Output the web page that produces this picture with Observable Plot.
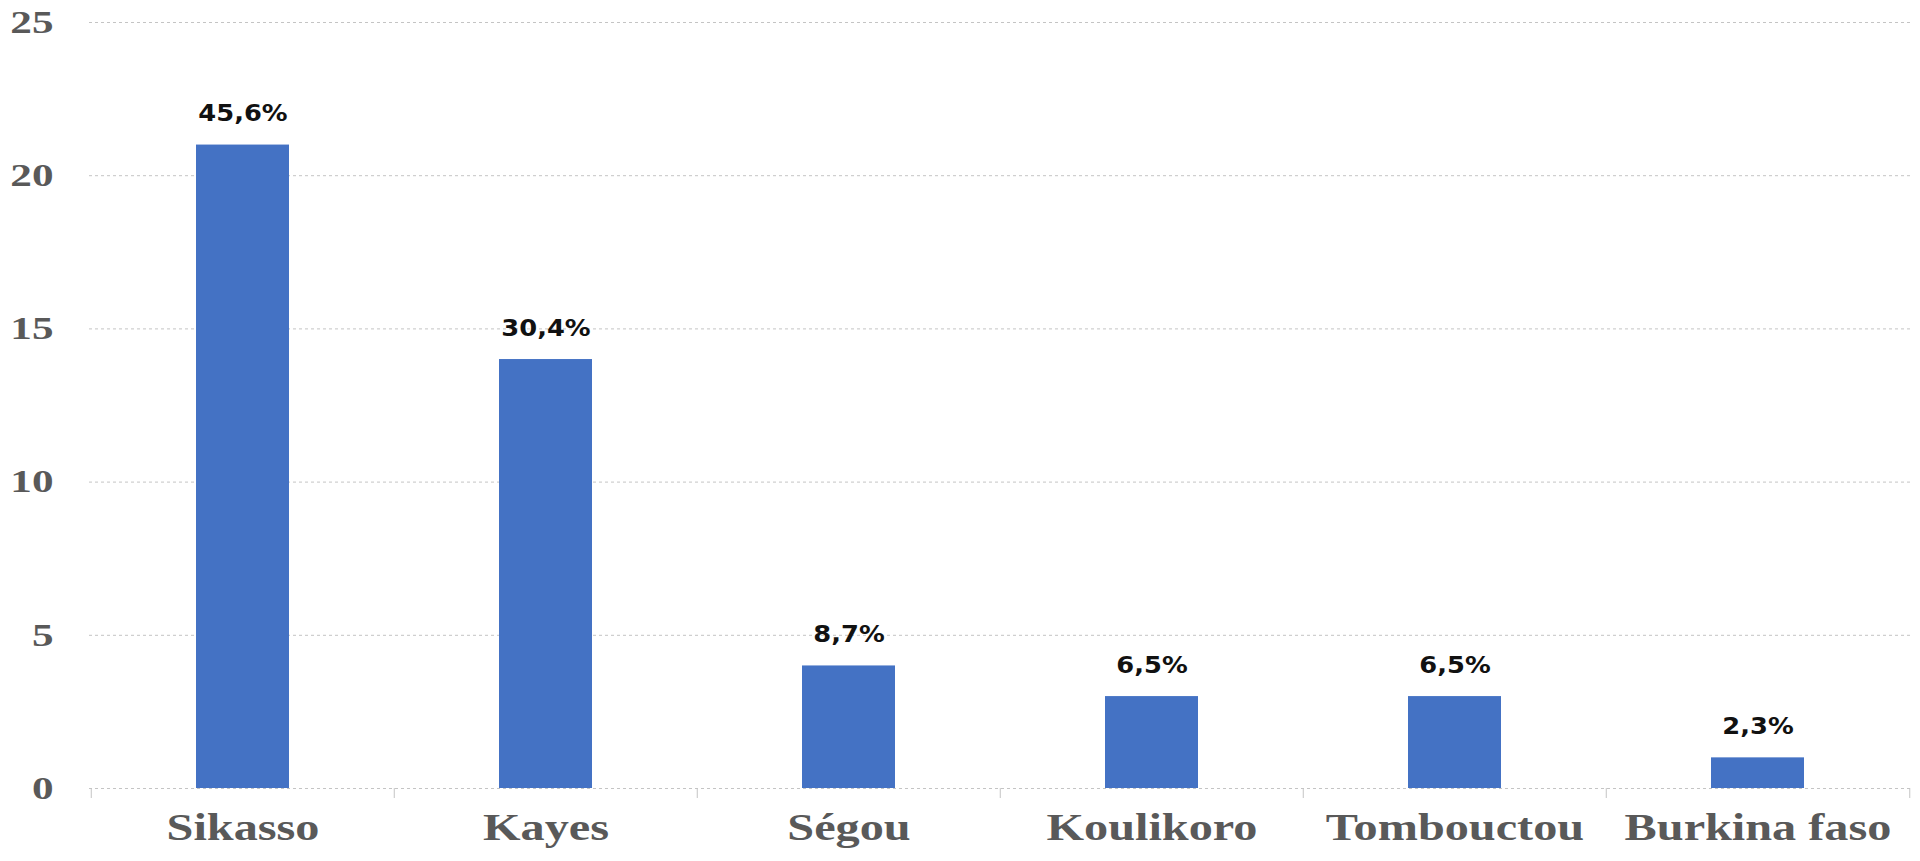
<!DOCTYPE html>
<html><head><meta charset="utf-8">
<script src="https://cdn.jsdelivr.net/npm/d3@7"></script>
<script src="https://cdn.jsdelivr.net/npm/@observablehq/plot@0.6"></script>
<style>body{margin:0;background:#fff}</style>
</head><body><div id="chart"></div>
<script>
const regions = ["Sikasso", "Kayes", "Ségou", "Koulikoro", "Tombouctou", "Burkina faso"];
const counts = [21, 14, 4, 3, 3, 1];
const percentLabels = ["45,6%", "30,4%", "8,7%", "6,5%", "6,5%", "2,3%"];
const yTicks = [0, 5, 10, 15, 20, 25];

const data = regions.map((r, i) => ({region: r, count: counts[i], label: percentLabels[i]}));

const W = 1920, H = 861, mL = 89, mR = 10, mT = 22, mB = 73;
const step = (W - mL - mR) / regions.length;
const gridColor = "#c4c4c4";

const chart = Plot.plot({
  width: W, height: H,
  marginLeft: mL, marginRight: mR, marginTop: mT, marginBottom: mB,
  style: {background: "#fff", overflow: "visible"},
  x: {domain: regions, padding: 0, label: null},
  y: {domain: [0, 25], label: null},
  marks: [
    Plot.gridY(yTicks, {stroke: gridColor, strokeOpacity: 1, strokeDasharray: "3,3", strokeWidth: 1}),
    Plot.barY(data, {x: "region", y: "count", fill: "#4472C4", insetLeft: 105, insetRight: 105}),
    Plot.ruleX(regions, {x: d => d, dx: -step / 2, y1: 0, y2: 0, insetBottom: -10, stroke: gridColor}),
    Plot.ruleX([regions[regions.length - 1]], {x: d => d, dx: step / 2, y1: 0, y2: 0, insetBottom: -10, stroke: gridColor}),
    Plot.text(data, {x: "region", y: "count", text: "label", lineAnchor: "bottom", dy: -24,
      fontFamily: "DejaVu Sans", fontWeight: "bold", fontSize: 23, fill: "#111"}),
    Plot.axisX({tickSize: 0, tickPadding: 25, fontFamily: "Liberation Serif", fontWeight: "bold",
      fontSize: 38, color: "#595959", label: null}),
    Plot.axisY(yTicks, {tickSize: 0, tickPadding: 36, fontFamily: "Liberation Serif", fontWeight: "bold",
      fontSize: 32, color: "#595959", label: null})
  ]
});

document.getElementById("chart").appendChild(chart);

function stretch(selector, sx) {
  d3.select(chart).selectAll(selector).each(function() {
    const t = this.getAttribute("transform");
    if (t) {
      this.setAttribute("transform", t + ` scale(${sx},1)`);
    } else {
      const x = +(this.getAttribute("x") || 0), y = +(this.getAttribute("y") || 0);
      this.removeAttribute("x"); this.removeAttribute("y");
      this.setAttribute("transform", `translate(${x},${y}) scale(${sx},1)`);
    }
  });
}
stretch('g[aria-label="x-axis tick label"] text', 1.27);
stretch('g[aria-label="y-axis tick label"] text', 1.35);
stretch('g[aria-label="text"] text', 1.12);
</script>
</body></html>
